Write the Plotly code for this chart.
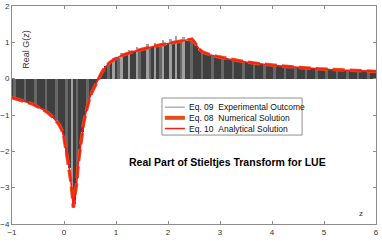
import numpy as np
import plotly.graph_objects as go

# ---- data ----
z_analytic = [-1.0, -0.8, -0.6, -0.4, -0.3, -0.2, -0.1, -0.05, 0.0, 0.05, 0.1, 0.135, 0.16, 0.18,
              0.2, 0.22, 0.245, 0.275, 0.31, 0.34, 0.38, 0.436, 0.5, 0.55, 0.6, 0.66, 0.72, 0.79,
              0.88, 0.98, 1.1, 1.3, 1.5, 1.7, 1.9, 2.1, 2.3, 2.46, 2.5, 2.55, 2.6, 2.67, 2.8, 2.94,
              3.2, 3.5, 3.75, 4.0, 4.5, 4.87, 5.25, 5.6, 6.0]
g_analytic = [-0.52, -0.6, -0.7, -0.85, -0.95, -1.08, -1.25, -1.38, -1.62, -2.05, -2.45, -2.86, -3.2, -3.55,
              -3.3, -3.1, -2.86, -2.31, -1.9, -1.57, -1.2, -0.84, -0.5, -0.33, -0.19, 0.0, 0.15, 0.31,
              0.44, 0.54, 0.63, 0.73, 0.81, 0.88, 0.94, 1.0, 1.05, 1.09, 1.02, 0.91, 0.81, 0.73, 0.66, 0.61,
              0.53, 0.46, 0.41, 0.37, 0.31, 0.27, 0.24, 0.22, 0.2]

z_numeric = z_analytic
g_numeric = g_analytic

z_exp_start, z_exp_end, n_exp = -1.0, 6.0, 141
g_exp = [
    -0.52, -0.54, -0.56, -0.58, -0.60, -0.62, -0.65, -0.67, -0.70, -0.73,
    -0.76, -0.80, -0.85, -0.90, -0.95, -1.01, -1.08, -1.15, -1.25, -1.38,
    -1.62, -2.05, -2.45, -2.95, -3.45, -2.75, -2.00, -1.48, -1.08, -0.78,
    -0.50, -0.33, -0.19, -0.04, 0.10, 0.22, 0.36, 0.38, 0.44, 0.58,
    0.53, 0.57, 0.70, 0.63, 0.66, 0.80, 0.71, 0.73, 0.86, 0.77,
    0.79, 0.81, 0.95, 0.84, 0.86, 0.98, 0.89, 0.91, 1.06, 0.93,
    0.95, 1.10, 0.98, 1.18, 1.00, 1.02, 1.15, 1.04, 1.05, 1.12,
    1.00, 0.90, 0.80, 0.74, 0.70, 0.67, 0.65, 0.63, 0.61, 0.60,
    0.58, 0.57, 0.55, 0.54, 0.53, 0.52, 0.50, 0.49, 0.48, 0.47,
    0.46, 0.45, 0.44, 0.43, 0.42, 0.41, 0.40, 0.39, 0.385, 0.38,
    0.37, 0.36, 0.355, 0.35, 0.34, 0.335, 0.33, 0.325, 0.32, 0.315,
    0.31, 0.30, 0.30, 0.29, 0.285, 0.28, 0.275, 0.27, 0.265, 0.26,
    0.26, 0.255, 0.25, 0.245, 0.24, 0.24, 0.235, 0.23, 0.23, 0.225,
    0.22, 0.22, 0.215, 0.21, 0.21, 0.205, 0.205, 0.20, 0.20, 0.195,
    0.195,
]
z_exp = np.linspace(z_exp_start, z_exp_end, n_exp)
assert len(g_exp) == n_exp

x_ticks = [-1, 0, 1, 2, 3, 4, 5, 6]
y_ticks = [-4, -3, -2, -1, 0, 1, 2]

legend_labels = ["Eq. 09\u00a0\u00a0Experimental Outcome",
                 "Eq. 08\u00a0\u00a0Numerical Solution",
                 "Eq. 10\u00a0\u00a0Analytical Solution"]
title_text = "Real Part of Stieltjes Transform for LUE"

# ---- styles ----
FONT = "Liberation Sans, Arial, Helvetica, sans-serif"
GRAY_DARK = "#3f3f3f"
GRAY_LIGHT = "#686868"
GRAY_SPIKE = "#a0a0a0"
ORANGE = "#E4501A"
RED = "#FF1A1A"
AXIS = "#8c8c8c"

g_interp = np.interp(z_exp, z_analytic, g_analytic)
bar_colors = []
for i, (gv, gc) in enumerate(zip(g_exp, g_interp)):
    if gv > gc + 0.06:
        bar_colors.append(GRAY_SPIKE)
    elif i % 4 == 1:
        bar_colors.append(GRAY_LIGHT)
    else:
        bar_colors.append(GRAY_DARK)

fig = go.Figure()
fig.add_trace(go.Bar(x=z_exp, y=g_exp, width=0.05, marker=dict(color=bar_colors, line=dict(width=0)),
                     showlegend=False))
fig.add_trace(go.Scatter(x=z_numeric, y=g_numeric, mode="lines",
                         line=dict(color=ORANGE, width=3.5, dash="12px,5px"), showlegend=False))
fig.add_trace(go.Scatter(x=z_analytic, y=g_analytic, mode="lines",
                         line=dict(color=RED, width=1.6), showlegend=False))

axis_common = dict(showline=True, linecolor=AXIS, linewidth=1, mirror="allticks",
                   ticks="inside", ticklen=3, tickcolor=AXIS, showgrid=False, zeroline=False,
                   automargin=False,
                   tickfont=dict(family=FONT, size=8, color="#333333"))
fig.update_xaxes(range=[-1, 6], tickvals=x_ticks, **axis_common)
fig.update_yaxes(range=[-4, 2], tickvals=y_ticks, **axis_common)

# custom legend
lx0, lx1, ly0, ly1 = 0.412, 0.797, 0.408, 0.578
rows = [0.536, 0.487, 0.438]
shapes = [dict(type="rect", xref="paper", yref="paper", x0=lx0, x1=lx1, y0=ly0, y1=ly1,
               fillcolor="white", line=dict(color="#909090", width=1), layer="above")]
styles = [dict(color="#8a8a8a", width=1), dict(color=ORANGE, width=4), dict(color=RED, width=1.5)]
annotations = []
for yy, st, lab in zip(rows, styles, legend_labels):
    shapes.append(dict(type="line", xref="paper", yref="paper", x0=0.420, x1=0.475, y0=yy, y1=yy,
                       line=st, layer="above"))
    annotations.append(dict(text=lab, xref="paper", yref="paper", x=0.480, y=yy, xanchor="left",
                            yanchor="middle", showarrow=False,
                            font=dict(family=FONT, size=8.5, color="#111111")))

annotations.append(dict(text="<b>" + title_text + "</b>", xref="paper", yref="paper", x=0.593, y=0.284,
                        xanchor="center", yanchor="middle", showarrow=False,
                        font=dict(family=FONT, size=10.5, color="#000000")))
annotations.append(dict(text="Real G(z)", xref="paper", yref="paper", x=0.036, y=0.80, textangle=-90,
                        xanchor="center", yanchor="middle", showarrow=False,
                        font=dict(family=FONT, size=9, color="#333333")))
annotations.append(dict(text="z", xref="paper", yref="paper", x=0.959, y=0.046,
                        xanchor="center", yanchor="middle", showarrow=False,
                        font=dict(family=FONT, size=8, color="#333333")))

fig.update_layout(width=382, height=241, margin=dict(l=12, r=6, t=6, b=17),
                  paper_bgcolor="white", plot_bgcolor="white", bargap=0,
                  shapes=shapes, annotations=annotations, showlegend=False)

fig.write_html("out.html", config={"displayModeBar": False},
               post_script="document.body.style.margin='0';document.body.style.padding='0';"
                           "document.documentElement.style.overflow='hidden';")
